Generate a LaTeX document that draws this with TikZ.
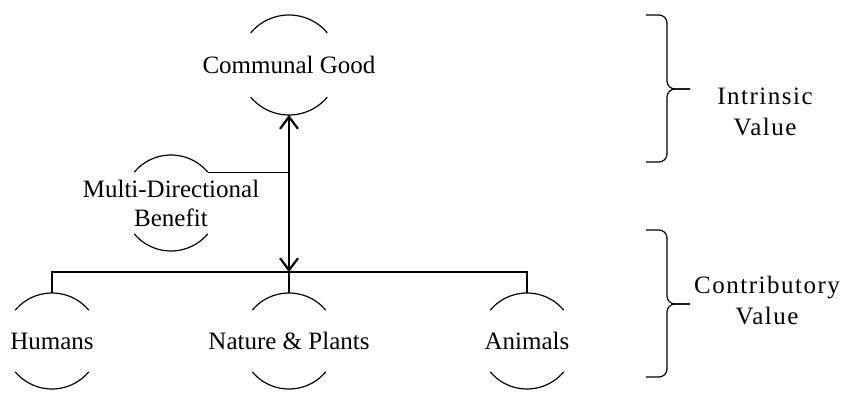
\documentclass[tikz,border=0pt]{standalone}
\usepackage{fontspec}
\setmainfont{Liberation Serif}
\newfontfamily\spacedfont[LetterSpace=6]{Liberation Serif}
\usetikzlibrary{arrows.meta}

\begin{document}
\begin{tikzpicture}[x=0.5pt,y=0.5pt]
  \tikzstyle{bubble}=[inner sep=0pt,align=center,font=\fontsize{12.5}{14.5}\selectfont]
  \tikzstyle{link}=[line width=0.6pt]
  \tikzstyle{valuelabel}=[align=center,font=\spacedfont\fontsize{12.5}{15.5}\selectfont]
  \useasboundingbox (0,0) rectangle (843,392);
  \node [bubble] (good)    at (289,327) {Communal Good};
  \node [bubble] (multi)   at (171,189) {Multi-Directional\\Benefit};
  \node [bubble] (humans)  at (52,51)   {Humans};
  \node [bubble] (nature)  at (289,51)  {Nature \& Plants};
  \node [bubble] (animals) at (527,51)  {Animals};
  % open circles: only top and bottom arcs
  \foreach \n/\r in {good/25pt,multi/24pt,humans/24pt,nature/24pt,animals/24pt}{
    \coordinate (\n-top) at ([shift={(90:\r)}]\n.center);
    \coordinate (\n-bot) at ([shift={(-90:\r)}]\n.center);
    \coordinate (\n-ne)  at ([shift={(40:\r)}]\n.center);
    \draw [link] (\n-ne) arc [start angle=40,end angle=140,radius=\r];
    \draw [link] ([shift={(220:\r)}]\n.center) arc [start angle=220,end angle=320,radius=\r];
  }
  \coordinate (bar) at (289,120);
  \draw [line width=1.1pt,{Straight Barb[length=6pt,width=9pt]}-{Straight Barb[length=6pt,width=9pt]}] (good-bot) -- (bar);
  \draw [link] (multi-ne) -- (multi-ne -| bar);
  \draw [link] (humans-top) -- (humans-top |- bar) -- (animals-top |- bar) -- (animals-top);
  \draw [link] (nature-top) -- (bar);
  % braces
  \node [valuelabel] (intrinsic) at (765,280) {Intrinsic\\Value};
  \node [valuelabel] (contrib)   at (767,91)  {Contributory\\Value};
  \draw [link,rounded corners=4pt] (646,377) -- (667,377) -- (667,303) -- (690,303);
  \draw [link,rounded corners=4pt] (646,230) -- (667,230) -- (667,303) -- (690,303);
  \draw [link,rounded corners=4pt] (646,162) -- (667,162) -- (667,88) -- (690,88);
  \draw [link,rounded corners=4pt] (646,15) -- (667,15) -- (667,88) -- (690,88);
\end{tikzpicture}
\end{document}
